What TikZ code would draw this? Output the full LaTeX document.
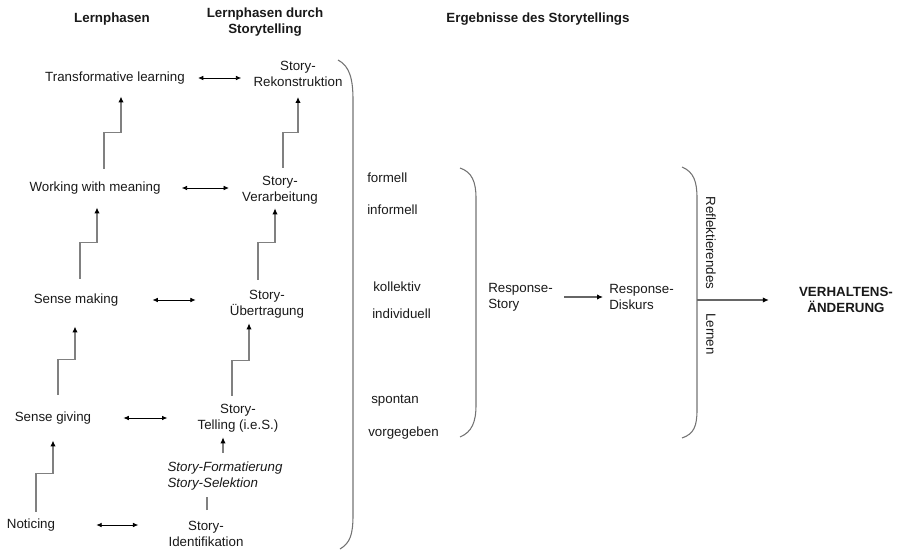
\documentclass[tikz,border=0pt]{standalone}
\usepackage{fontspec}
\setmainfont{Liberation Sans}
\usetikzlibrary{calc,arrows.meta}

\begin{document}
\begin{tikzpicture}[x=0.75pt, y=-0.75pt,
	every node/.style={font=\fontsize{10}{12}\selectfont, inner sep=0pt, text=black!90},
	head/.style={font=\fontsize{10}{12}\selectfont\bfseries, align=center},
	phase/.style={align=center},
	stepline/.style={draw=black!50, line width=0.8pt, -{Latex[length=4.5pt, width=4pt, color=black]}},
	plainline/.style={draw=black!50, line width=0.8pt},
	single/.style={draw=black!60, line width=0.8pt, -{Latex[length=4.5pt, width=4pt, color=black]}},
	dblarrow/.style={draw=black, line width=0.6pt, {Latex[length=4pt, width=3.5pt]}-{Latex[length=4pt, width=3.5pt]}},
	brace/.style={draw=black!55, line width=0.8pt}]
	\useasboundingbox (0,0) rectangle (908,550);
	\node[head] (h1) at (112,19) {Lernphasen};
	\node[head] (h2) at (265,22) {Lernphasen durch\\Storytelling};
	\node[head] (h3) at (538,19) {Ergebnisse des Storytellings};
	\node (tl) at (115,78) {Transformative learning};
	\node (wwm) at (95,188) {Working with meaning};
	\node (sm) at (76,300) {Sense making};
	\node (sg) at (53,418) {Sense giving};
	\node (nt) at (31,525) {Noticing};
	\node[phase] (sr) at (298,74) {Story-\\Rekonstruktion};
	\node[phase] (sv) at (280,190) {Story-\\Verarbeitung};
	\node[phase] (su) at (267,304) {Story-\\Übertragung};
	\node[phase] (st) at (238,418) {Story-\\Telling (i.e.S.)};
	\node[align=left, font=\fontsize{10}{12}\selectfont\itshape] (sf) at (225,476) {Story-Formatierung\\Story-Selektion};
	\node[phase] (si) at (206,534) {Story-\\Identifikation};
	\foreach \a/\b/\s/\e in {tl/sr/13/12, wwm/sv/21/13, sm/su/34/34, sg/st/32/30, nt/si/41/30}{
		\draw[dblarrow] ($(\a.east)+(\s,0)$) -- ($(\a.east -| \b.west)+(-\e,0)$);
	};
	\foreach \a/\b/\dx/\ga/\r/\ex/\gb in {wwm/tl/9/13/36/6/12, sm/wwm/4/15/36/2/13, sg/sm/5/17/35/-1/20, nt/sg/5/7/38/0/16, sv/sr/3/8/35/0/10, su/sv/-9/10/37/-5/4, st/su/-6/8/35/-18/5}{
		\draw[stepline] ($(\a.north)+(\dx,-\ga)$) -- ++(0,-\r) -| ($(\b.south)+(\ex,\gb)$);
	};
	\draw[stepline] ($(sf.north)+(-2,-9)$) -- ($(st.south)+(-15,5)$);
	\draw[plainline] ($(si.north)+(1,-11)$) -- ($(sf.south)+(-18,7)$);
	\draw[brace] (338,60) .. controls (350,66) and (353,80) .. (353,100) -- (353,515) .. controls (353,535) and (350,543) .. (340,549);
	\foreach \t/\x/\y in {formell/367/178, informell/367/210, kollektiv/373/287, individuell/372/314, spontan/371/401, vorgegeben/368/433}{
		\node[anchor=west] (\t) at (\x,\y) {\t};
	};
	\draw[brace] (460,168) .. controls (472,172) and (476,182) .. (476,198) -- (476,405) .. controls (476,422) and (472,432) .. (460,437);
	\node[anchor=west, align=left] (rs) at (488,297) {Response-\\Story};
	\node[anchor=west, align=left] (rd) at (609,297) {Response-\\Diskurs};
	\draw[single] ($(rs.east)+(11,0)$) -- ($(rd.west)+(-6,0)$);
	\draw[brace] (682,167) .. controls (694,172) and (697,182) .. (697,198) -- (697,410) .. controls (697,426) and (694,434) .. (682,438);
	\node[rotate=-90] (refl) at (711,243) {Reflektierendes};
	\node[rotate=-90] (lern) at (711,334) {Lernen};
	\node[head] (vh) at (846,300) {VERHALTENS-\\ÄNDERUNG};
	\coordinate (b3) at (697,300);
	\draw[single] (b3) -- ($(vh.west)+(-30,0)$);
\end{tikzpicture}
\end{document}
